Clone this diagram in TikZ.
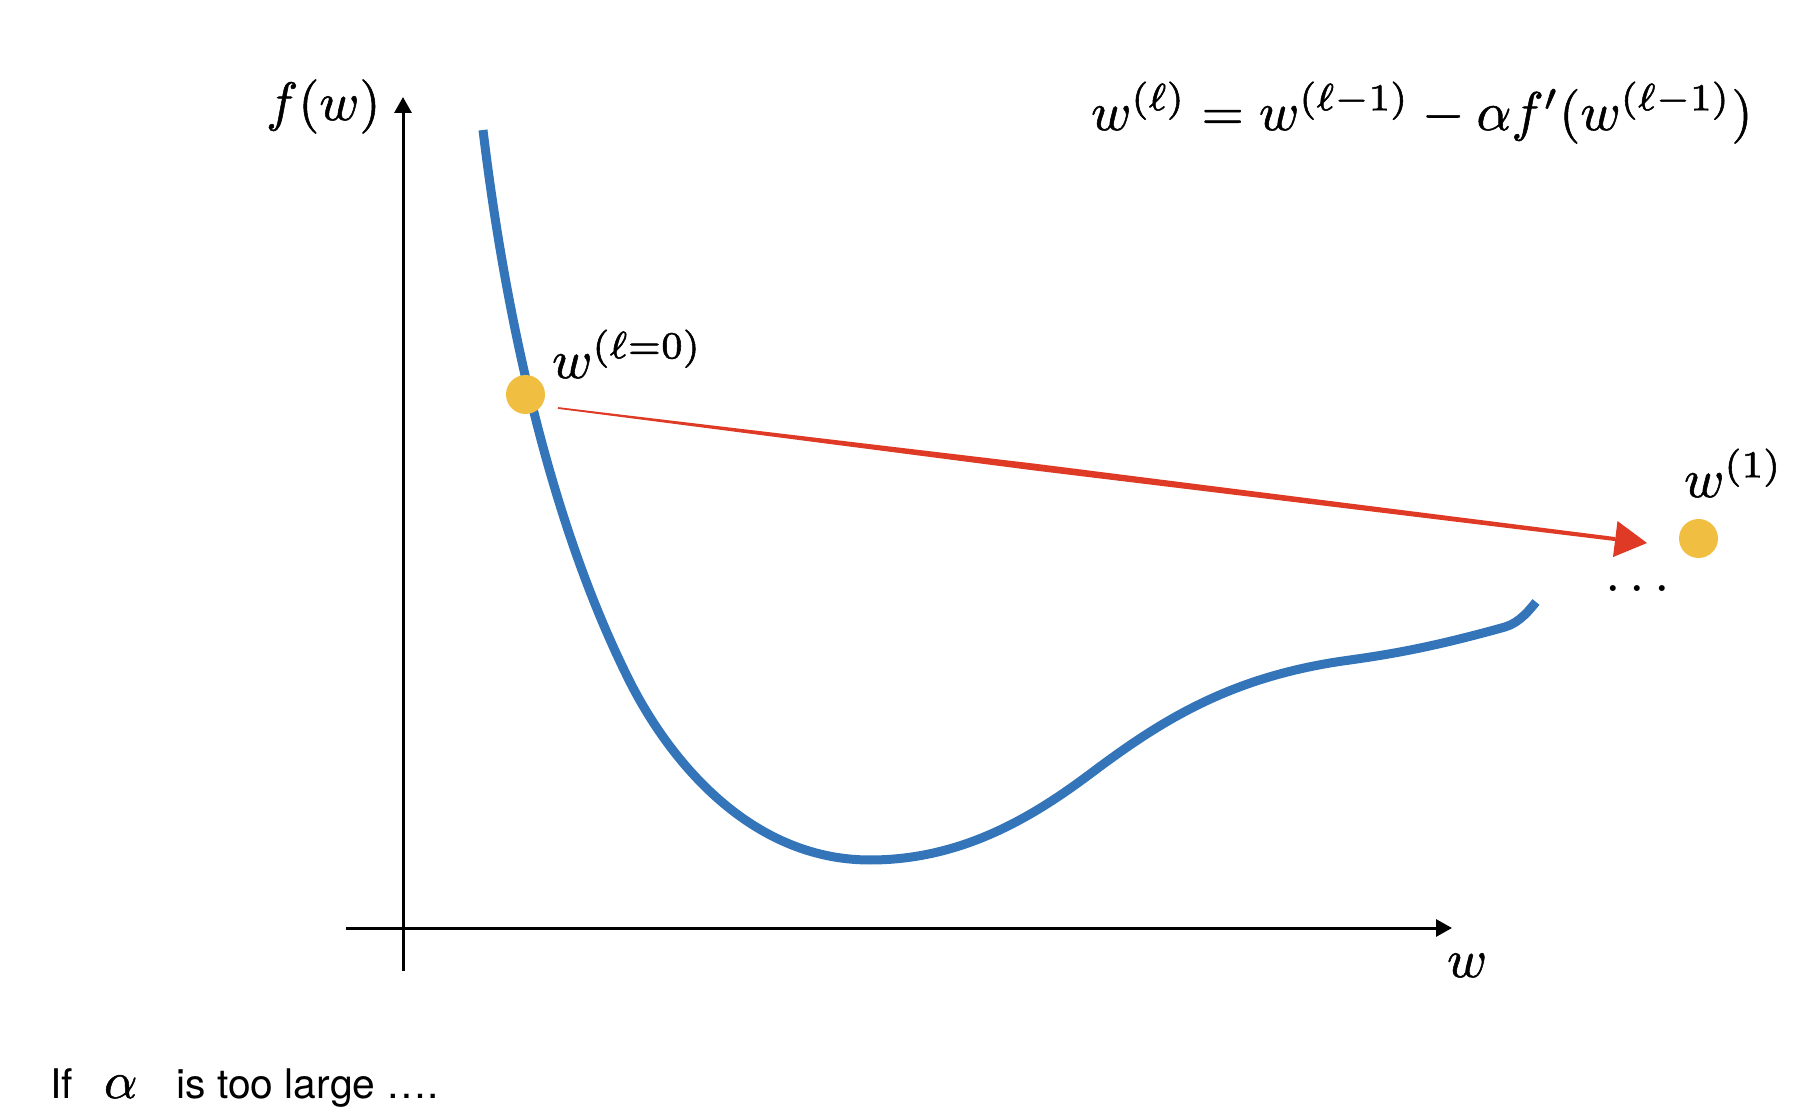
\RequirePackage{fix-cm}
\documentclass[tikz,border=0pt]{standalone}
\usepackage{fontspec}
\newfontfamily\helv{TeX Gyre Heros}
\usetikzlibrary{arrows.meta,calc}
\definecolor{curveblue}{HTML}{3474B8}
\definecolor{dotyellow}{HTML}{F0BE41}
\definecolor{arrowred}{HTML}{DE3A25}
\newcommand\heavytext[1]{\special{pdf:literal direct 2 Tr 0.1 w}#1\special{pdf:literal direct 0 Tr}}
\begin{document}
\begin{tikzpicture}[x=0.5pt,y=-0.5pt,
  axis/.style={line width=1.5pt, -{Triangle[length=8pt,width=8.5pt]}},
  fcurve/.style={curveblue, line width=4.5pt},
  wdot/.style={circle, fill=dotyellow, inner sep=0pt, minimum size=19.5pt},
  steparrow/.style={arrowred, line width=0.6pt, -{Triangle[length=16pt,width=18pt]}},
  mlabel/.style={anchor=base west, inner sep=0pt, font=\fontsize{10}{12}\selectfont, scale=2.72},
  alabel/.style={anchor=base west, inner sep=0pt, font=\fontsize{10}{12}\selectfont, scale=2.7},
  slabel/.style={anchor=base west, inner sep=0pt, font=\helv\fontsize{20.4}{24}\selectfont}]
\path[use as bounding box] (0,0) rectangle (1796,1112);
% axes
\coordinate (yb) at (403,971);
\coordinate (yt) at (403,97);
\coordinate (xl) at (346,928);
\coordinate (xr) at (1452,928);
\draw[axis] (yb) -- (yt);
\draw[axis] (xl) -- (xr);
% curve
\draw[fcurve] (483,130) .. controls (507,330) and (554,530) .. (629,680)
  .. controls (669,760) and (750,860) .. (870,860)
  .. controls (960,860) and (1030,819) .. (1090,774)
  .. controls (1160,721.5) and (1230,676) .. (1350,660)
  .. controls (1400,653) and (1440,645) .. (1505,627)
  .. controls (1520,622.8) and (1531,608) .. (1536,602);
% dots
\node[wdot] (d0) at (525.5,394.5) {};
\node[wdot] (d1) at (1698.5,538.5) {};
% step arrow
\coordinate (s) at (558,408);
\coordinate (t) at (1647,543);
\coordinate (hb) at ($(t)!16pt!(s)$);
\coordinate (mid) at ($(s)!0.45!(hb)$);
\fill[arrowred] ($(s)!0.4pt!90:(t)$) -- ($(mid)!1.7pt!90:(t)$) -- ($(hb)!1pt!90:(t)$)
  -- ($(hb)!1pt!-90:(t)$) -- ($(mid)!1.7pt!-90:(t)$) -- ($(s)!0.4pt!-90:(t)$) -- cycle;
\draw[steparrow] (s) -- (t);
% labels
\node[alabel] (fw) at (265,120) {\heavytext{$f(w)$}};
\node[alabel] (wx) at (1446,977) {\heavytext{$w$}};
\node[mlabel] (upd) at (1090,130) {\heavytext{$w^{(\ell)} = w^{(\ell-1)} - \alpha f'(w^{(\ell-1)})$}};
\node[mlabel] (w0) at (551,378) {\heavytext{$w^{(\ell=0)}$}};
\node[mlabel] (w1) at (1683,497) {\heavytext{$w^{(1)}$}};
\node[mlabel, scale=1.03] (dots) at (1604,592) {$\ldots$};
\node[slabel] (if) at (50,1098) {If};
\node[anchor=base west, inner sep=0pt, font=\fontsize{10}{12}\selectfont, scale=2.6] (al) at (103,1098) {\heavytext{$\alpha$}};
\node[slabel] (rest) at (176,1098) {is too large ….};
\end{tikzpicture}
\end{document}
